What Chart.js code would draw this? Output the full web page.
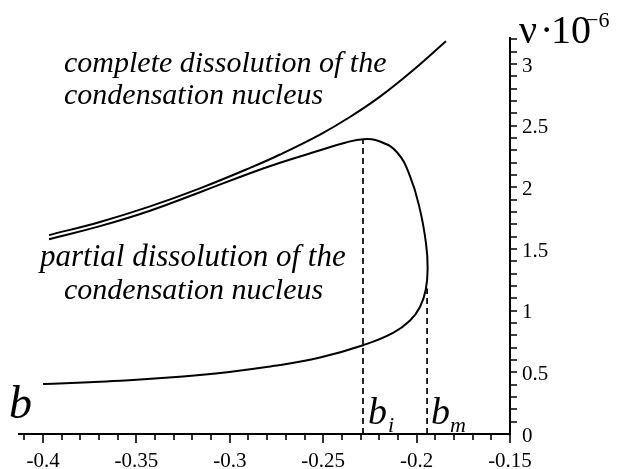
<!DOCTYPE html>
<html>
<head>
<meta charset="utf-8">
<script src="https://cdn.jsdelivr.net/npm/chart.js@4"></script>
<style>
  html, body { margin: 0; padding: 0; background: #fff; }
</style>
</head>
<body>
<canvas id="chart" width="627" height="469"></canvas>
<script>
// upper curve: complete dissolution
const completeB  = [-0.3968, -0.3695, -0.3427, -0.3160, -0.2892, -0.2731, -0.2517, -0.2357, -0.2196, -0.2019, -0.1843];
const completeNu = [1.613, 1.720, 1.846, 1.992, 2.158, 2.267, 2.429, 2.571, 2.736, 2.950, 3.185];

// loop: partial dissolution (upper branch -> right side -> lower branch)
const loopB  = [-0.3968, -0.3695, -0.3427, -0.3160, -0.2892, -0.2731, -0.2517, -0.2383, -0.2287,
                -0.2196, -0.2105, -0.2035, -0.1982, -0.1950, -0.1941, -0.1951, -0.1982, -0.2035,
                -0.2126, -0.2287, -0.2517, -0.2731, -0.3160, -0.3695, -0.4000];
const loopNu = [1.580, 1.686, 1.811, 1.961, 2.115, 2.200, 2.301, 2.362, 2.391,
                2.372, 2.285, 2.090, 1.820, 1.550, 1.350, 1.170, 1.030, 0.920,
                0.820, 0.720, 0.620, 0.560, 0.478, 0.424, 0.405];

// dashed markers
const bI = -0.2287, nuBi = 2.391;
const bM = -0.1944, nuBm = 1.18;

// axes
const xMajorTicks = [-0.4, -0.35, -0.3, -0.25, -0.2, -0.15];
const xTickLabels = ['-0.4', '-0.35', '-0.3', '-0.25', '-0.2', '-0.15'];
const yMajorTicks = [0, 0.5, 1, 1.5, 2, 2.5, 3];
const yTickLabels = ['0', '0.5', '1', '1.5', '2', '2.5', '3'];

function pts(xs, ys) { return xs.map((x, i) => ({ x: x, y: ys[i] })); }

const SERIF = '"Liberation Serif", "Times New Roman", serif';

const axesPlugin = {
  id: 'mathAxes',
  afterDraw(chart) {
    const c = chart.ctx, xs = chart.scales.x, ys = chart.scales.y;
    const x0 = xs.getPixelForValue(xs.min), x1 = xs.getPixelForValue(xs.max);
    const y0 = ys.getPixelForValue(0), yTop = ys.getPixelForValue(ys.max);
    c.save();
    c.strokeStyle = '#000';
    c.fillStyle = '#000';
    c.lineWidth = 2;
    c.beginPath();
    c.moveTo(x0, y0); c.lineTo(x1 + 1, y0);
    c.moveTo(x1, y0); c.lineTo(x1, yTop);
    c.stroke();

    // x ticks every 0.01
    c.lineWidth = 1.6;
    c.beginPath();
    for (let k = -41; k <= -15; k++) {
      const px = Math.round(xs.getPixelForValue(k / 100));
      const major = (k % 5 === 0);
      c.moveTo(px, y0); c.lineTo(px, y0 + (major ? 9 : 6));
    }
    // y ticks every 0.1
    for (let k = 1; k <= 32; k++) {
      const py = Math.round(ys.getPixelForValue(k / 10));
      c.moveTo(x1, py); c.lineTo(x1 + 7, py);
    }
    c.stroke();

    c.font = '21px ' + SERIF;
    c.textAlign = 'center';
    c.textBaseline = 'alphabetic';
    xMajorTicks.forEach((v, i) => {
      c.fillText(xTickLabels[i], xs.getPixelForValue(v), 467);
    });
    c.textAlign = 'left';
    c.textBaseline = 'middle';
    yMajorTicks.forEach((v, i) => {
      c.fillText(yTickLabels[i], x1 + 12, ys.getPixelForValue(v) + 2);
    });

    // axis titles
    c.textBaseline = 'alphabetic';
    c.font = 'italic 46px ' + SERIF;
    c.fillText('b', 9, 418);
    c.font = '40px ' + SERIF;
    c.fillText('\u03BD', 519, 43);
    c.fillText('\u00B7', 540, 43);
    c.fillText('10', 551, 43);
    c.font = '22px ' + SERIF;
    c.fillText('\u22126', 586, 27);

    // b_i and b_m
    c.font = 'italic 38px ' + SERIF;
    c.fillText('b', xs.getPixelForValue(bI) + 5, 424);
    c.fillText('b', xs.getPixelForValue(bM) + 4, 424);
    c.font = 'italic 22px ' + SERIF;
    c.fillText('i', xs.getPixelForValue(bI) + 25, 432);
    c.fillText('m', xs.getPixelForValue(bM) + 23, 432);

    // region notes
    c.font = 'italic 30px ' + SERIF;
    c.fillText('complete dissolution of the', 64, 72);
    c.fillText('condensation nucleus', 64, 104);
    c.fillText('condensation nucleus', 64, 299);
    c.font = 'italic 31px ' + SERIF;
    c.fillText('partial dissolution of the', 40, 266);
    c.restore();
  }
};

new Chart(document.getElementById('chart'), {
  type: 'scatter',
  data: {
    datasets: [
      { data: pts(completeB, completeNu), showLine: true, borderColor: '#000', borderWidth: 2, pointRadius: 0, tension: 0.4 },
      { data: pts(loopB, loopNu), showLine: true, borderColor: '#000', borderWidth: 2, pointRadius: 0, tension: 0.45 },
      { data: [{ x: bI, y: 0 }, { x: bI, y: nuBi }], showLine: true, borderColor: '#000', borderWidth: 1.7, borderDash: [6, 4], pointRadius: 0 },
      { data: [{ x: bM, y: 0 }, { x: bM, y: nuBm }], showLine: true, borderColor: '#000', borderWidth: 1.7, borderDash: [6, 4], pointRadius: 0 }
    ]
  },
  options: {
    responsive: false,
    animation: false,
    layout: { padding: { left: 18, right: 117, top: 37, bottom: 35 } },
    scales: {
      x: { type: 'linear', display: false, min: -0.4134, max: -0.15 },
      y: { type: 'linear', display: false, min: 0, max: 3.22 }
    },
    plugins: { legend: { display: false }, tooltip: { enabled: false } }
  },
  plugins: [axesPlugin]
});
</script>
</body>
</html>
